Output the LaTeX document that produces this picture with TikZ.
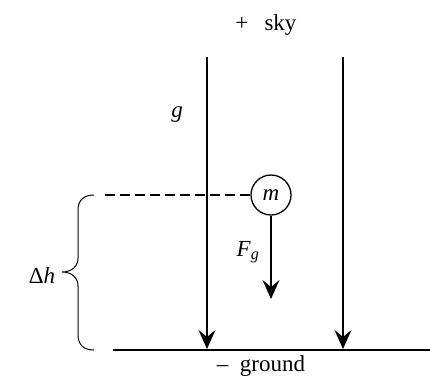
\documentclass[tikz,border=0pt]{standalone}
\usepackage{fontspec}
\setmainfont{Liberation Serif}
\usetikzlibrary{arrows.meta}
\begin{document}
\begin{tikzpicture}[x=1pt,y=-1pt,
  lbl/.style={inner sep=0pt,anchor=base,font=\fontsize{23}{26}\selectfont},
  force/.style={line width=1.5pt,-{Stealth[length=19pt,width=17pt,inset=7pt]}},
  thin/.style={line width=1pt}]
\useasboundingbox (0,0) rectangle (430,376);
\node[lbl] (sky) at (266,30) {+\hspace{0.7em}sky};
\node[lbl] (gnd) at (261,371) {–\hspace{0.5em}ground};
\node[lbl] (g) at (177,117) {\textit{g}};
\node[draw,circle,line width=1.3pt,minimum size=40pt,inner sep=0pt,font=\fontsize{23}{26}\selectfont] (m) at (271,195) {\textit{m}};
\node[lbl] (Fg) at (248,256) {\textit{F}\textsubscript{\textit{g}}};
\node[lbl] (dh) at (42,283) {Δ\textit{h}};
\coordinate (t1) at (207,57);
\coordinate (b1) at (207,349);
\coordinate (t2) at (343,57);
\coordinate (b2) at (343,349);
\coordinate (gl) at (113,350);
\coordinate (gr) at (430,350);
\coordinate (dl) at (105,195);
\coordinate (ft) at (271,299);
\draw[force] (t1) -- (b1);
\draw[force] (t2) -- (b2);
\draw[force] (m.south) -- (ft);
\draw[line width=1.5pt] (gl) -- (gr);
\draw[dashed,dash pattern=on 10pt off 5pt,line width=1.3pt] (dl) -- (m.west);
\draw[thin] (94,195) .. controls (84,195) and (78,200) .. (78,210) -- (78,258)
  .. controls (78,266) and (72,272) .. (62,272)
  .. controls (72,272) and (78,278) .. (78,286) -- (78,335)
  .. controls (78,345) and (84,350) .. (94,350);
\end{tikzpicture}
\end{document}
